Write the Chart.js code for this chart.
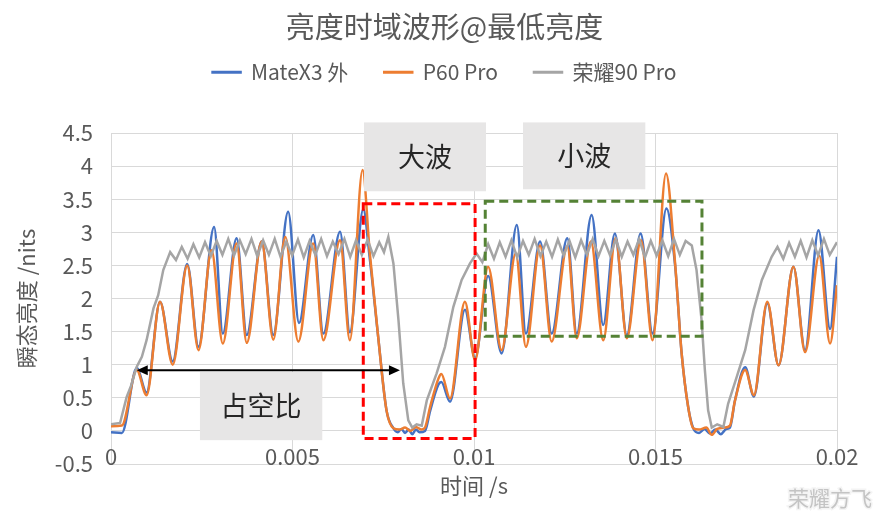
<!DOCTYPE html>
<html>
<head>
<meta charset="utf-8">
<script src="https://cdn.jsdelivr.net/npm/chart.js@4.4.0/dist/chart.umd.min.js"></script>
<style>
  html, body { margin: 0; padding: 0; background: #fff; }
  #wrap { width: 889px; height: 519px; }
</style>
</head>
<body>
<div id="wrap"><canvas id="c"></canvas></div>
<script>
// time in ms, brightness in nits
const mateX3 = [
  [0, -0.02], [0.3, -0.03], [0.71, 0.95], [0.98, 0.58], [1.35, 1.95], [1.70, 1.05],
  [2.10, 2.52], [2.41, 1.27], [2.84, 3.08], [3.08, 1.47], [3.46, 2.91], [3.74, 1.45],
  [4.15, 2.86], [4.47, 1.45], [4.88, 3.31], [5.18, 1.63], [5.57, 2.96], [5.85, 1.47],
  [6.31, 3.01], [6.58, 1.49], [6.95, 3.35], [7.13, 2.6], [7.36, 1.42], [7.59, 0.31],
  [7.78, 0.04], [7.9, -0.02], [8.0, 0.03], [8.1, -0.03], [8.2, 0.02], [8.3, -0.05],
  [8.4, 0.02], [8.5, -0.02], [8.65, 0.0], [8.79, 0.3], [9.02, 0.7], [9.1, 0.74],
  [9.34, 0.44], [9.75, 1.83], [10.03, 1.1], [10.39, 2.34], [10.76, 1.17], [11.18, 3.11],
  [11.43, 1.47], [11.82, 2.86], [12.14, 1.47], [12.57, 2.91], [12.83, 1.47], [13.24, 3.26],
  [13.56, 1.60], [13.88, 2.98], [14.21, 1.45], [14.59, 2.98], [14.92, 1.47], [15.30, 3.36],
  [15.54, 2.5], [15.72, 1.17], [15.90, 0.36], [16.04, 0.04], [16.2, -0.03], [16.35, 0.03],
  [16.5, -0.04], [16.65, 0.02], [16.8, -0.05], [16.95, 0.03], [17.05, 0.05], [17.19, 0.46],
  [17.47, 0.96], [17.71, 0.52], [18.08, 1.93], [18.39, 0.99], [18.80, 2.48], [19.12, 1.22],
  [19.49, 3.03], [19.81, 1.54], [20.0, 2.63]
];
const p60Pro = [
  [0, 0.07], [0.3, 0.08], [0.71, 0.92], [0.98, 0.54], [1.35, 1.95], [1.70, 1.0],
  [2.10, 2.5], [2.41, 1.22], [2.77, 2.73], [3.08, 1.32], [3.46, 2.83], [3.74, 1.33],
  [4.15, 2.86], [4.47, 1.38], [4.80, 2.93], [5.16, 1.35], [5.57, 2.83], [5.85, 1.37],
  [6.31, 2.88], [6.58, 1.37], [6.93, 3.94], [7.13, 2.68], [7.36, 1.42], [7.59, 0.31],
  [7.78, 0.04], [7.95, 0.02], [8.1, 0.05], [8.25, 0.0], [8.4, 0.06], [8.55, 0.02],
  [8.65, 0.05], [8.79, 0.36], [9.02, 0.79], [9.1, 0.86], [9.34, 0.49], [9.75, 1.95],
  [10.03, 1.07], [10.39, 2.48], [10.76, 1.22], [11.15, 2.68], [11.43, 1.27], [11.82, 2.8],
  [12.14, 1.35], [12.57, 2.79], [12.83, 1.40], [13.22, 2.86], [13.56, 1.37], [13.90, 2.91],
  [14.21, 1.40], [14.60, 2.88], [14.92, 1.37], [15.29, 3.89], [15.54, 2.53], [15.72, 1.17],
  [15.90, 0.36], [16.04, 0.04], [16.2, 0.02], [16.4, 0.05], [16.55, -0.06], [16.7, 0.03],
  [16.9, 0.05], [17.05, 0.08], [17.19, 0.46], [17.47, 0.92], [17.71, 0.54], [18.08, 1.95],
  [18.39, 0.99], [18.80, 2.48], [19.12, 1.19], [19.51, 2.65], [19.81, 1.32], [20.0, 2.2]
];
const honor90Pro = [
  [0, 0.1], [0.25, 0.12], [0.43, 0.51], [0.55, 0.68], [0.71, 0.97], [0.85, 1.12],
  [0.98, 1.37], [1.17, 1.85], [1.3, 2.05], [1.44, 2.43], [1.63, 2.70], [1.79, 2.58],
  [1.95, 2.78], [2.11, 2.6], [2.27, 2.82], [2.43, 2.62], [2.59, 2.85], [2.75, 2.64],
  [2.91, 2.87], [3.07, 2.66], [3.23, 2.9], [3.39, 2.65], [3.55, 2.88], [3.71, 2.67],
  [3.87, 2.9], [4.03, 2.64], [4.19, 2.88], [4.35, 2.66], [4.51, 2.9], [4.67, 2.63],
  [4.83, 2.86], [4.99, 2.65], [5.15, 2.89], [5.31, 2.62], [5.47, 2.87], [5.63, 2.66],
  [5.79, 2.9], [5.95, 2.64], [6.11, 2.86], [6.27, 2.67], [6.43, 2.9], [6.59, 2.63],
  [6.75, 2.88], [6.91, 2.66], [7.07, 2.89], [7.23, 2.64], [7.39, 2.85], [7.52, 2.7],
  [7.64, 2.93], [7.78, 2.53], [7.92, 1.67], [8.05, 0.72], [8.19, 0.16], [8.3, 0.05],
  [8.42, 0.1], [8.56, 0.08], [8.70, 0.46], [8.97, 0.87], [9.20, 1.27], [9.43, 1.87],
  [9.66, 2.28], [9.89, 2.53], [10.07, 2.68], [10.23, 2.55], [10.39, 2.82], [10.55, 2.6],
  [10.71, 2.85], [10.87, 2.63], [11.03, 2.88], [11.19, 2.62], [11.35, 2.87], [11.51, 2.66],
  [11.67, 2.9], [11.83, 2.64], [11.99, 2.86], [12.15, 2.63], [12.31, 2.89], [12.47, 2.65],
  [12.63, 2.87], [12.79, 2.62], [12.95, 2.88], [13.11, 2.66], [13.27, 2.9], [13.43, 2.64],
  [13.59, 2.87], [13.75, 2.65], [13.91, 2.89], [14.07, 2.63], [14.23, 2.86], [14.39, 2.66],
  [14.55, 2.9], [14.71, 2.62], [14.87, 2.87], [15.03, 2.65], [15.19, 2.88], [15.35, 2.64],
  [15.51, 2.9], [15.67, 2.66], [15.83, 2.87], [16.0, 2.8], [16.13, 2.43], [16.27, 1.67],
  [16.36, 0.92], [16.45, 0.31], [16.55, 0.05], [16.7, 0.1], [16.87, 0.06], [17.0, 0.41],
  [17.24, 0.82], [17.47, 1.22], [17.7, 1.82], [17.93, 2.28], [18.2, 2.63], [18.36, 2.78],
  [18.52, 2.6], [18.68, 2.84], [18.84, 2.63], [19.0, 2.87], [19.16, 2.62], [19.32, 2.88],
  [19.48, 2.65], [19.64, 2.9], [19.80, 2.66], [20.0, 2.85]
];

const seriesNames = ['MateX3 外', 'P60 Pro', '荣耀90 Pro'];
const seriesColors = ['#4472C4', '#ED7D31', '#A5A5A5'];
const xTickLabels = ['0', '0.005', '0.01', '0.015', '0.02'];
const yTickLabels = ['-0.5', '0', '0.5', '1', '1.5', '2', '2.5', '3', '3.5', '4', '4.5'];

const FONT = "'Noto Sans CJK SC', 'Noto Sans', sans-serif";
const TEXT = '#595959';
const GRID = '#d9d9d9';

const toPoints = arr => arr.map(([t, v]) => ({ x: t / 1000, y: v }));

// callout boxes, dashed frames and the duty-cycle arrow, in data units
const labelBoxes = [
  { text: '大波', x0: 0.00697, x1: 0.01033, y0: 3.62, y1: 4.66 },
  { text: '小波', x0: 0.01135, x1: 0.01472, y0: 3.65, y1: 4.66 },
  { text: '占空比', x0: 0.00245, x1: 0.00582, y0: -0.14, y1: 0.89 }
];
const frames = [
  { color: '#ff0000', x0: 0.00695, x1: 0.01003, y0: -0.115, y1: 3.43 },
  { color: '#548235', x0: 0.01031, x1: 0.01628, y0: 1.43, y1: 3.47 }
];
const arrow = { x0: 0.00071, x1: 0.00796, y: 0.915 };

const marksPlugin = {
  id: 'marks',
  afterDatasetsDraw(chart) {
    const { ctx, scales: { x, y } } = chart;
    ctx.save();

    // x tick labels sit just under the zero line, like Excel's axis crossing
    ctx.fillStyle = TEXT;
    ctx.font = '22px ' + FONT;
    ctx.textAlign = 'center';
    ctx.textBaseline = 'middle';
    x.ticks.forEach((tk, i) => {
      ctx.fillText(xTickLabels[i], x.getPixelForValue(tk.value), y.getPixelForValue(0) + 26);
    });

    labelBoxes.forEach(b => {
      const l = x.getPixelForValue(b.x0), r = x.getPixelForValue(b.x1);
      const t = y.getPixelForValue(b.y1), btm = y.getPixelForValue(b.y0);
      ctx.fillStyle = '#e7e6e6';
      ctx.fillRect(l, t, r - l, btm - t);
      ctx.fillStyle = '#262626';
      ctx.font = '27px ' + FONT;
      ctx.fillText(b.text, (l + r) / 2, (t + btm) / 2);
    });

    frames.forEach(f => {
      const l = x.getPixelForValue(f.x0), r = x.getPixelForValue(f.x1);
      const t = y.getPixelForValue(f.y1), btm = y.getPixelForValue(f.y0);
      ctx.strokeStyle = f.color;
      ctx.lineWidth = 3;
      ctx.setLineDash([9, 5]);
      ctx.strokeRect(l, t, r - l, btm - t);
    });
    ctx.setLineDash([]);

    // double headed arrow
    const ax0 = x.getPixelForValue(arrow.x0), ax1 = x.getPixelForValue(arrow.x1);
    const ay = y.getPixelForValue(arrow.y);
    ctx.strokeStyle = '#000';
    ctx.fillStyle = '#000';
    ctx.lineWidth = 2;
    ctx.beginPath();
    ctx.moveTo(ax0 + 8, ay);
    ctx.lineTo(ax1 - 8, ay);
    ctx.stroke();
    [[ax0, 1], [ax1, -1]].forEach(([px, dir]) => {
      ctx.beginPath();
      ctx.moveTo(px, ay);
      ctx.lineTo(px + dir * 11, ay - 5);
      ctx.lineTo(px + dir * 11, ay + 5);
      ctx.closePath();
      ctx.fill();
    });

    // watermark
    ctx.font = '21px ' + FONT;
    ctx.textAlign = 'right';
    ctx.lineWidth = 3;
    ctx.strokeStyle = '#f4f4f4';
    ctx.strokeText('荣耀方飞', 872, 498);
    ctx.fillStyle = '#c4c4c4';
    ctx.fillText('荣耀方飞', 872, 498);

    ctx.restore();
  }
};

const datasets = [mateX3, p60Pro, honor90Pro].map((arr, i) => ({
  label: seriesNames[i],
  data: toPoints(arr),
  borderColor: seriesColors[i],
  backgroundColor: seriesColors[i],
  borderWidth: 2.5,
  pointRadius: 0,
  cubicInterpolationMode: i < 2 ? 'monotone' : 'default',
  tension: i < 2 ? 0.4 : 0,
  order: 3 - i
}));

new Chart(document.getElementById('c'), {
  type: 'line',
  data: { datasets },
  options: {
    responsive: true,
    maintainAspectRatio: false,
    animation: false,
    layout: { padding: 0 },
    plugins: {
      title: {
        display: true,
        text: '亮度时域波形@最低亮度',
        color: TEXT,
        font: { family: FONT, size: 29, weight: 'normal' },
        padding: { top: 10, bottom: -19 }
      },
      subtitle: {
        display: true,
        text: '',
        weight: 500,
        font: { size: 1 },
        padding: { top: 39, bottom: 0 }
      },
      legend: {
        position: 'top',
        labels: {
          color: TEXT,
          font: { family: FONT, size: 21 },
          boxWidth: 28,
          boxHeight: 0.5,
          padding: 36,
          sort: (a, b) => a.datasetIndex - b.datasetIndex
        }
      },
      tooltip: { enabled: false }
    },
    scales: {
      x: {
        type: 'linear',
        min: 0,
        max: 0.02,
        ticks: {
          display: false,
          stepSize: 0.005
        },
        grid: { color: GRID, drawTicks: false },
        border: { display: false },
        title: {
          display: true,
          text: '时间 /s',
          color: TEXT,
          font: { family: FONT, size: 22 },
          padding: { top: 0, bottom: 20 }
        },
        afterFit: s => { s.height = 55; }
      },
      y: {
        min: -0.5,
        max: 4.5,
        ticks: {
          stepSize: 0.5,
          color: TEXT,
          font: { family: FONT, size: 22 },
          padding: 18,
          callback: (v, i) => yTickLabels[i]
        },
        grid: { color: GRID, drawTicks: false },
        border: { display: false },
        title: {
          display: true,
          text: '瞬态亮度 /nits',
          color: TEXT,
          font: { family: FONT, size: 22 },
          padding: { top: 13, bottom: 0 }
        },
        afterFit: s => { s.width = 111; }
      },
      r: {
        position: 'right',
        min: 0,
        max: 1,
        grid: { display: false },
        border: { display: false },
        ticks: { display: false },
        afterFit: s => { s.width = 52; }
      }
    }
  },
  plugins: [marksPlugin]
});
</script>
</body>
</html>
